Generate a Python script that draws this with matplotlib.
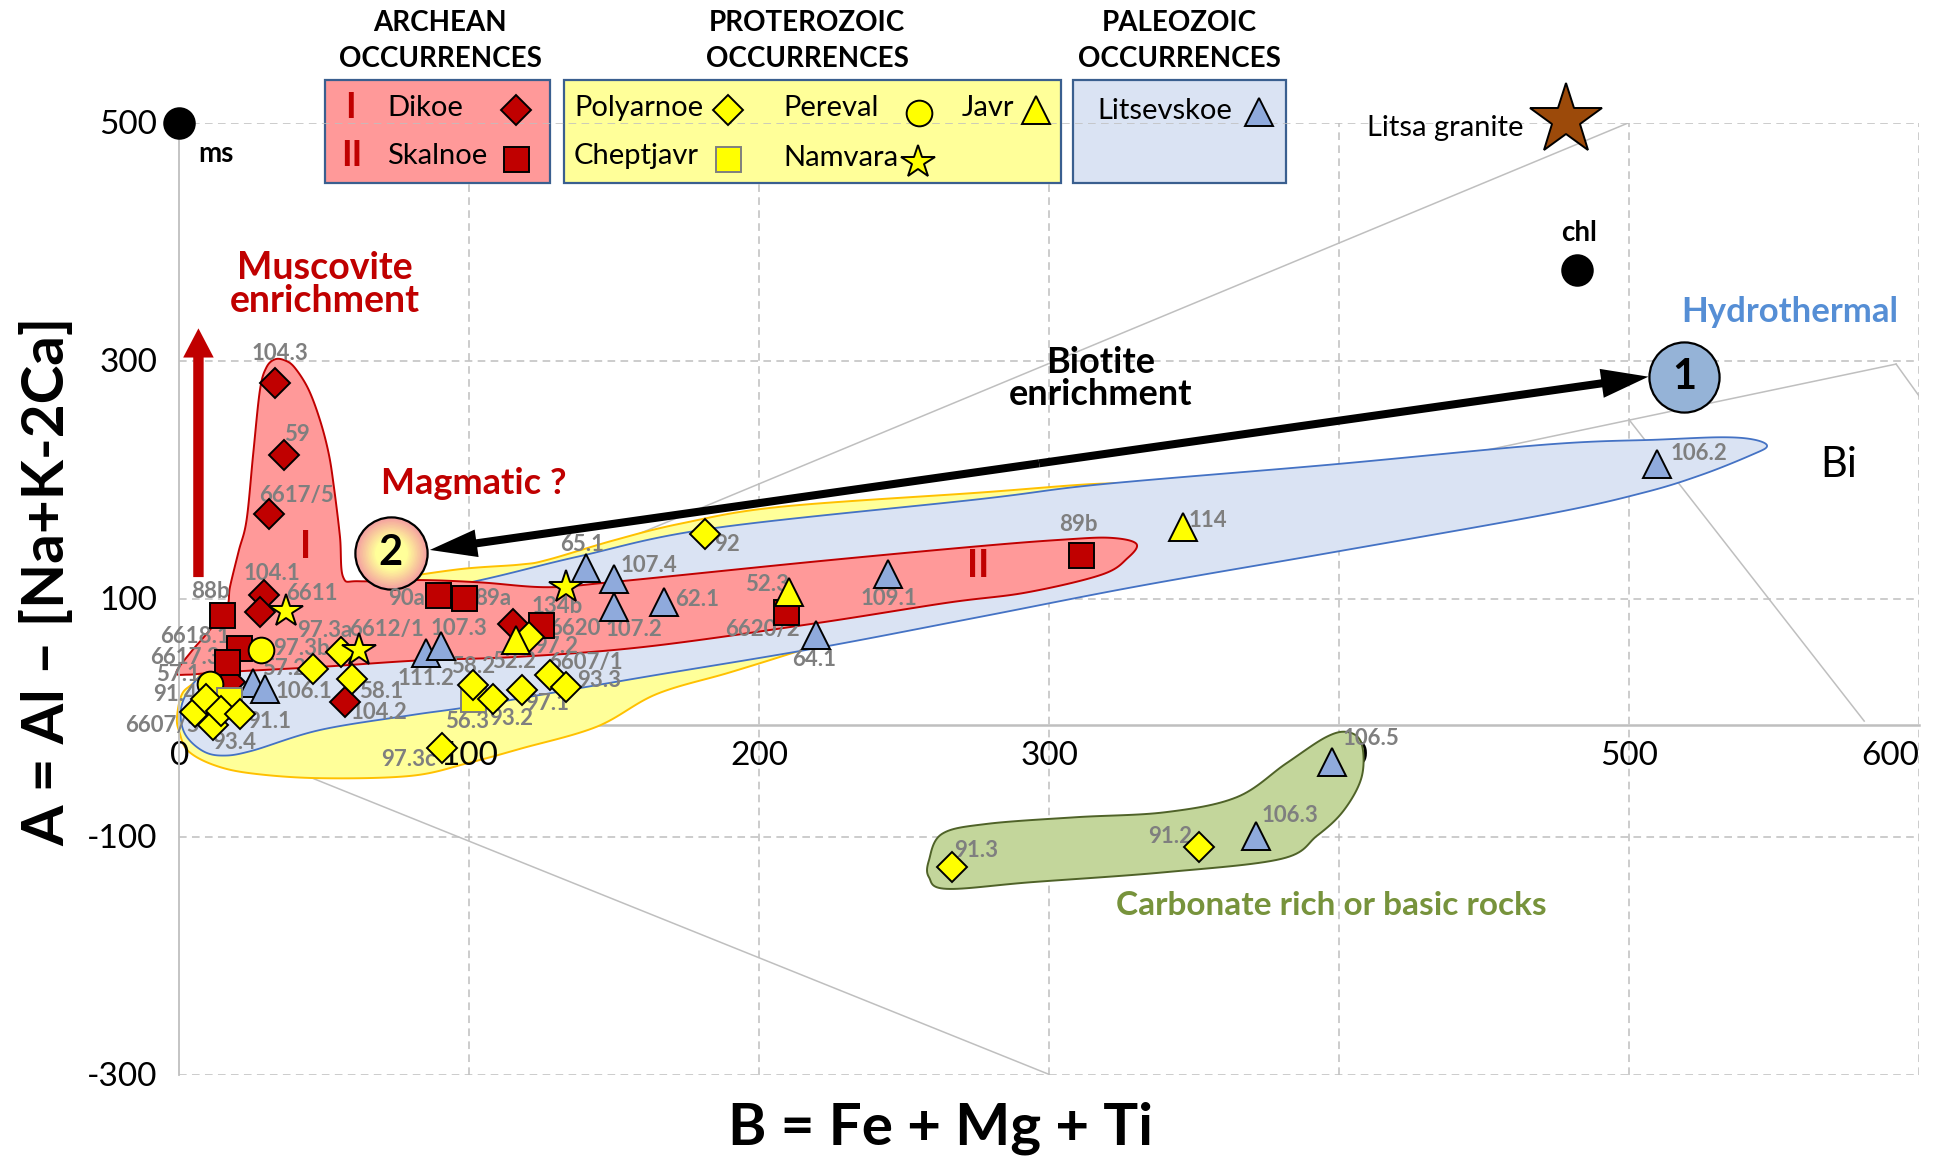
import numpy as np
import matplotlib
matplotlib.use("Agg")
import matplotlib.pyplot as plt
from matplotlib.patches import Polygon, Rectangle, FancyArrowPatch
from matplotlib.transforms import Affine2D

plt.rcParams['font.family'] = ['Lato', 'DejaVu Sans']
plt.rcParams['axes.unicode_minus'] = False

# ---- Archean ----
dikoe_x = [33, 36, 31, 29.3, 27.8, 17.5, 57, 115]
dikoe_y = [281, 221, 171, 103, 88.5, 29.5, 13, 78.5]
dikoe_lab = ['104.3', '59', '6617/5', '104.1', '', '', '104.2', '']

skalnoe_x = [14.8, 20.5, 16.6, 89.3, 98, 124.6, 209.2, 310.8]
skalnoe_y = [86.5, 58, 47, 103, 100.5, 78, 88.5, 136.6]
skalnoe_lab = ['88b', '6618.1', '6617.3', '90a', '89a', '6620', '6620/2', '89b']

# ---- Proterozoic ----
polyarnoe_x = [5.4, 9.2, 11.5, 14.3, 20.8, 46, 55.7, 59.4, 90.5, 101.2, 108.3,
               118.1, 120.7, 127.8, 133.3, 181.3, 266.6, 351.5]
polyarnoe_y = [4.5, 15.8, -6.7, 5.5, 3.2, 40.7, 54.8, 32.3, -25.5, 27, 15.9,
               23, 68, 35.9, 25.8, 153.9, -125.8, -109]
polyarnoe_lab = ['6607/5', '91.4', '93.4', '', '91.1', '97.3b', '97.3a', '58.1', '97.3c',
                 '58.2', '93.2', '97.1', '97.2', '6607/1', '93.3', '92', '91.3', '91.2']

pereval_x = [28.3, 10.6]
pereval_y = [56.5, 28.3]
pereval_lab = ['57.2', '57.1']

javr_x = [116.1, 210.3, 346.2]
javr_y = [65.5, 105.2, 159.7]
javr_lab = ['52.2', '52.3', '114']

cheptjavr_x = [17.2, 101.2]
cheptjavr_y = [14.3, 15.4]
cheptjavr_lab = ['', '56.3']

namvara_x = [36.7, 62.1, 133.3]
namvara_y = [89.4, 56.8, 109.7]
namvara_lab = ['6611', '6612/1', '134b']

# ---- Paleozoic ----
litsevskoe_x = [25.3, 29.4, 85.1, 90.2, 140.2, 149.9, 149.9, 167.2, 219.6, 244.5, 509.7, 371.2, 397.4]
litsevskoe_y = [29, 23.7, 54.2, 60.4, 125.7, 116.8, 92.8, 96.7, 69.7, 120.7, 213.3, -99.7, -37.3]
litsevskoe_lab = ['', '106.1', '111.2', '107.3', '65.1', '107.4', '107.2', '62.1', '64.1',
                  '109.1', '106.2', '106.3', '106.5']

# end members
ref_names = ['ms', 'chl']
ref_x = [0, 482]
ref_y = [500, 376]
granite_x = [478]
granite_y = [502]

# label offsets in pixels (dx, dy)
dikoe_off = [(5, 30), (13, 20), (27, 19), (8, 21), (0, 0), (0, 0), (34, -10), (0, 0)]
skalnoe_off = [(-12, 23), (-44, 12), (-42, 4), (-32, -4), (29, -1), (34, -4), (-24, -17), (-2, 30)]
polyarnoe_off = [(-33, -13), (-31, 4), (21, -17), (0, 0), (30, -8), (-11, 21), (-16, 22), (30, -12),
                 (-33, -12), (0, 19), (18, -20), (25, -13), (27, -10), (36, 12), (33, 6), (22, -10),
                 (24, 17), (-29, 11)]
pereval_off = [(23, -18), (-32, 9)]
javr_off = [(-2, -22), (-22, 8), (25, 7)]
cheptjavr_off = [(0, 0), (-6, -22)]
namvara_off = [(26, 18), (27, 20), (-9, -20)]
litsevskoe_off = [(0, 0), (39, -2), (0, -25), (18, 17), (-4, 23), (35, 13), (20, -22), (33, 3),
                  (-2, -25), (1, -25), (41, 10), (34, 21), (39, 23)]

# envelopes (data units)
yellow_env = [(-0.8, 0), (1, 20), (6, 32), (15, 62), (32, 92), (62, 111), (94.5, 124), (117.5, 128.5),
              (127, 132.5), (150, 149), (173, 163), (207, 177), (276, 189), (318, 196.5), (335, 194),
              (330, 180), (300, 140), (250, 85), (215, 57), (190, 38), (164.6, 19.7), (144, -7.7),
              (118, -26), (100, -38), (80, -49), (48.5, -51), (25, -47), (12, -40), (3, -28), (0, -12)]
blue_env = [(0.5, 5), (3, 22), (10, 40), (30, 68), (60, 93), (104, 115.5), (138, 135.5), (184, 159),
            (276, 183.5), (318, 196), (397, 212.5), (472, 229.5), (510, 233.5), (532, 235.5),
            (543, 233.5), (547.5, 228), (542, 220.5), (525, 204), (505, 189), (472, 171), (397, 138.5),
            (331, 110.5), (276, 84.5), (219, 58), (161, 34.3), (104, 10.5), (80, 2), (48.5, -10.5),
            (25, -28), (15, -32), (8, -28), (2, -14)]
red_env = [(-1, 38), (4, 55), (10, 72), (16.3, 92), (17.5, 110), (20.5, 140), (23.2, 166), (25.5, 222),
           (27.8, 275), (30, 294), (33, 301), (36.5, 300), (39.8, 294), (44.5, 276), (48.5, 250),
           (51.5, 222), (53.3, 194), (55.4, 152), (56.5, 118), (62, 114.5), (83, 115.5), (104, 113.5),
           (127, 109.5), (150, 114), (219, 131), (276, 144), (305, 149.5), (321, 151), (330, 146),
           (327, 134), (318, 120), (292, 105), (265, 96.5), (219, 79), (161, 59.5), (117, 51), (83, 48),
           (48.5, 42.5), (14, 38), (3, 36)]
green_env = [(258.5, -120), (263, -97.8), (278.5, -89.4), (309.2, -83.8), (340, -79.6), (364.6, -67),
             (381.5, -38.9), (395.4, -16.5), (403, -12.3), (407.7, -22.1), (407.7, -50.1), (401.5, -78.2),
             (392.3, -99.4), (380, -118.8), (340, -130), (293.8, -138.4), (264.6, -144), (258.5, -134.2)]

# diagram lines
diagram_lines = [((0, -6), (500, 500)), ((0, -6), (592, 297)), ((500, 250), (581, -3)),
                 ((592, 297), (610, 236)), ((0, -6), (300, -300))]


def closed_curve(pts, n=16):
    P = np.asarray(pts, float)
    t = np.linspace(0, 1, n, endpoint=False)[:, None]
    segs = []
    for i in range(len(P)):
        p0, p1, p2, p3 = P[i - 1], P[i], P[(i + 1) % len(P)], P[(i + 2) % len(P)]
        segs.append(0.5 * (2 * p1 + (p2 - p0) * t + (2 * p0 - 5 * p1 + 4 * p2 - p3) * t ** 2
                           + (3 * p1 - p0 - 3 * p2 + p3) * t ** 3))
    return np.vstack(segs)


W, H = 1939, 1159
fig = plt.figure(figsize=(W / 100, H / 100), dpi=100)
pix = Affine2D().scale(0.01, -0.01).translate(0, H / 100) + fig.dpi_scale_trans

ax = fig.add_axes([179.3 / W, (H - 1074.5) / H, 1740 / W, 952 / H])
ax.patch.set_visible(False)
ax.set_xlim(0, 600)
ax.set_ylim(-300, 500)

GRID = '#BFBFBF'
for s in ['top', 'right']:
    ax.spines[s].set_visible(False)
ax.spines['left'].set_color(GRID)
ax.spines['left'].set_linewidth(1.3)
ax.spines['left'].set_zorder(4.5)
ax.spines['bottom'].set_position(('data', -6))
ax.spines['bottom'].set_color(GRID)
ax.spines['bottom'].set_linewidth(1.8)
ax.spines['bottom'].set_zorder(1.5)

ax.set_xticks(range(0, 601, 100))
xl = ax.set_xticklabels([str(v) for v in range(0, 601, 100)])
xl[-1].set_ha('right')
ax.set_yticks([-300, -100, 100, 300, 500])
ax.tick_params(length=0, labelsize=24)
ax.tick_params(axis='x', pad=12)
ax.tick_params(axis='y', pad=16)
ax.xaxis.set_zorder(2.5)   # above the yellow field, below the green one

for xv in range(100, 601, 100):
    ax.axvline(xv, color=GRID, lw=1.1, ls=(0, (5, 3.5)), zorder=0.5)
for yv in [-300, -100, 100, 300, 500]:
    ax.axhline(yv, color=GRID, lw=1.1, ls=(0, (5, 3.5)), zorder=0.9)

for (x0, y0), (x1, y1) in diagram_lines:
    ax.plot([x0, x1], [y0, y1], color=GRID, lw=1.1, zorder=1)

# envelopes
ax.add_patch(Polygon(closed_curve(yellow_env), closed=True, fc='#FFFF99', ec='#FFC000', lw=1.4,
                     zorder=2, clip_on=False))
ax.add_patch(Polygon(closed_curve(blue_env), closed=True, fc='#DAE3F3', ec='#4472C4', lw=1.3,
                     zorder=3, clip_on=False))
ax.add_patch(Polygon(closed_curve(red_env), closed=True, fc='#FF9999', ec='#C00000', lw=1.4,
                     zorder=4, clip_on=False))
ax.add_patch(Polygon(closed_curve(green_env), closed=True, fc='#C3D69B', ec='#4F6228', lw=1.4,
                     zorder=2.7, clip_on=False))


def pts(xs, ys, marker, ms, fc, ec='black', z=6):
    ax.plot(xs, ys, ls='none', marker=marker, ms=ms, mfc=fc, mec=ec, mew=1.4, zorder=z, clip_on=False)


def labels(xs, ys, labs, offs, size=16):
    for x, y, t, (dx, dy) in zip(xs, ys, labs, offs):
        if t:
            ax.annotate(t, (x, y), xytext=(dx, dy), textcoords='offset pixels', ha='center',
                        va='center', fontsize=size, fontweight='bold', color='#7F7F7F', zorder=9,
                        annotation_clip=False)


RED, YEL, BLU = '#C00000', '#FFFF00', '#8FAADC'
MS_D, MS_S, MS_T, MS_O, MS_STAR = 15.5, 18, 20.5, 18.5, 25
labels(dikoe_x, dikoe_y, dikoe_lab, dikoe_off)
labels(skalnoe_x, skalnoe_y, skalnoe_lab, skalnoe_off)
labels(litsevskoe_x, litsevskoe_y, litsevskoe_lab, litsevskoe_off)
labels(pereval_x, pereval_y, pereval_lab, pereval_off)
labels(cheptjavr_x, cheptjavr_y, cheptjavr_lab, cheptjavr_off)
labels(polyarnoe_x, polyarnoe_y, polyarnoe_lab, polyarnoe_off)
labels(javr_x, javr_y, javr_lab, javr_off)
labels(namvara_x, namvara_y, namvara_lab, namvara_off)

pts(dikoe_x, dikoe_y, 'D', MS_D, RED, z=10)
pts(skalnoe_x, skalnoe_y, 's', MS_S, RED, z=10)
pts(litsevskoe_x, litsevskoe_y, '^', MS_T, BLU, z=10.1)
pts(pereval_x, pereval_y, 'o', MS_O, YEL, z=10.2)
pts(cheptjavr_x, cheptjavr_y, 's', MS_S, YEL, ec='#7F7F7F', z=10.3)
pts(polyarnoe_x, polyarnoe_y, 'D', MS_D, YEL, z=10.4)
pts(javr_x, javr_y, '^', MS_T, YEL, z=10.5)
pts(namvara_x, namvara_y, '*', MS_STAR, YEL, z=10.6)

# end members
pts(ref_x, ref_y, 'o', 22, 'black', z=10)
for x, y, t, (dx, dy) in zip(ref_x, ref_y, ref_names, [(37, -32), (2, 37)]):
    ax.annotate(t, (x, y), xytext=(dx, dy), textcoords='offset pixels', ha='center', va='center',
                fontsize=20, fontweight='bold', annotation_clip=False)
pts(granite_x, granite_y, '*', 54, '#9C4A0A', z=10)
ax.annotate('Litsa granite', (granite_x[0], granite_y[0]), xytext=(-42, -8), textcoords='offset pixels',
            ha='right', va='center', fontsize=21, annotation_clip=False)


# arrows
def arrow(p0, p1, color, tail, hw, hl):
    ax.add_patch(FancyArrowPatch(p0, p1, arrowstyle=f'simple,head_length={hl},head_width={hw},tail_width={tail}',
                                 mutation_scale=1, color=color, lw=0, shrinkA=0, shrinkB=0, zorder=7,
                                 clip_on=False))


arrow((6.6, 118), (6.6, 327), RED, 7.5, 22, 21)
mid = (296.5, 213.6)
arrow(mid, (86.4, 140.8), 'black', 5.8, 20, 34)
arrow(mid, (506.6, 286.4), 'black', 5.8, 21, 34)

# circle 1 (hydrothermal)
ax.plot([519], [286], 'o', ms=50.5, mfc='#95B3D7', mec='black', mew=1.6, zorder=8)
ax.text(519, 286, '1', ha='center', va='center', fontsize=30, fontweight='bold', zorder=9)
# circle 2 (magmatic) with radial gradient
c_edge = np.array([244, 160, 160]) / 255
c_mid = np.array([255, 255, 153]) / 255
for k in range(24):
    f = 1 - k / 24
    t = min(1.0, (1 - f) / 0.55)
    ax.plot([72.9], [138.4], 'o', ms=52 * f, mfc=c_edge * (1 - t) + c_mid * t, mec='none', zorder=8)
ax.plot([72.9], [138.4], 'o', ms=52, mfc='none', mec='black', mew=1.6, zorder=8.5)
ax.text(72.9, 138.4, '2', ha='center', va='center', fontsize=30, fontweight='bold', zorder=9)

# annotations
ax.text(50.3, 364, 'Muscovite\nenrichment', ha='center', va='center', fontsize=27, fontweight='bold',
        color=RED, linespacing=0.95, zorder=9)
ax.text(101.5, 196.5, 'Magmatic ?', ha='center', va='center', fontsize=26, fontweight='bold', color=RED, zorder=9)
ax.text(317.7, 285, 'Biotite\nenrichment', ha='center', va='center', fontsize=26, fontweight='bold',
        linespacing=0.95, zorder=9)
ax.text(555.2, 341, 'Hydrothermal', ha='center', va='center', fontsize=25, fontweight='bold',
        color='#558ED5', zorder=9)
ax.text(572.3, 212, 'Bi', ha='center', va='center', fontsize=30, zorder=9)
ax.text(397.4, -157.8, 'Carbonate rich or basic rocks', ha='center', va='center', fontsize=24,
        fontweight='bold', color='#77933C', zorder=9)
ax.text(43.7, 143, 'I', ha='center', va='center', fontsize=27, fontweight='bold', color=RED, zorder=9)
ax.text(275.3, 127.7, 'II', ha='center', va='center', fontsize=27, fontweight='bold', color=RED, zorder=9)

# legend boxes (figure pixels)
boxes = [(325, 80, 225, 103, '#FF9999'), (564, 80, 497, 103, '#FFFF99'), (1073, 80, 213, 103, '#DAE3F3')]
for bx, by, bw, bh, fc in boxes:
    ax.add_patch(Rectangle((bx, by), bw, bh, transform=pix, fc=fc, ec='#3A5F8F', lw=1.6,
                           zorder=0.7, clip_on=False))
heads = [(440, 'ARCHEAN'), (807, 'PROTEROZOIC'), (1179, 'PALEOZOIC')]
for hx, ht in heads:
    ax.text(hx, 23, ht, transform=pix, ha='center', va='center', fontsize=20, fontweight='bold')
    ax.text(hx, 59, 'OCCURRENCES', transform=pix, ha='center', va='center', fontsize=20, fontweight='bold')

leg_txt = dict(transform=pix, ha='left', va='center', fontsize=21, zorder=9)
ax.text(350, 107, 'I', transform=pix, ha='center', va='center', fontsize=26, fontweight='bold', color=RED)
ax.text(352, 156, 'II', transform=pix, ha='center', va='center', fontsize=26, fontweight='bold', color=RED)
ax.text(387, 108, 'Dikoe', **leg_txt)
ax.text(387, 156, 'Skalnoe', **leg_txt)
ax.text(574, 108, 'Polyarnoe', **leg_txt)
ax.text(783, 108, 'Pereval', **leg_txt)
ax.text(962, 108, 'Javr', **leg_txt)
ax.text(574, 156, 'Cheptjavr', **leg_txt)
ax.text(783, 158, 'Namvara', **leg_txt)
ax.text(1097, 111, 'Litsevskoe', **leg_txt)
leg_marks = [(516, 110, 'D', MS_D, RED, 'black'), (516, 159, 's', MS_S, RED, 'black'),
             (728, 110, 'D', MS_D, YEL, 'black'), (919, 113, 'o', MS_O, YEL, 'black'),
             (1036, 110, '^', MS_T, YEL, 'black'), (728, 159, 's', MS_S, YEL, '#7F7F7F'),
             (918, 162, '*', MS_STAR, YEL, 'black'), (1259, 112, '^', MS_T, BLU, 'black')]
for mx, my, mk, msz, fc, ec in leg_marks:
    ax.plot([mx], [my], marker=mk, ms=msz, mfc=fc, mec=ec, mew=1.4, transform=pix, clip_on=False, zorder=9)

# axis titles
fig.text(47 / W, 1 - 581 / H, 'A = Al \u2013 [Na+K-2Ca]', rotation=90, ha='center', va='center',
         fontsize=42, fontweight='bold')
fig.text(940 / W, 1 - 1128 / H, 'B = Fe + Mg + Ti', ha='center', va='center', fontsize=42, fontweight='bold')

fig.savefig('out.png', dpi=100)
